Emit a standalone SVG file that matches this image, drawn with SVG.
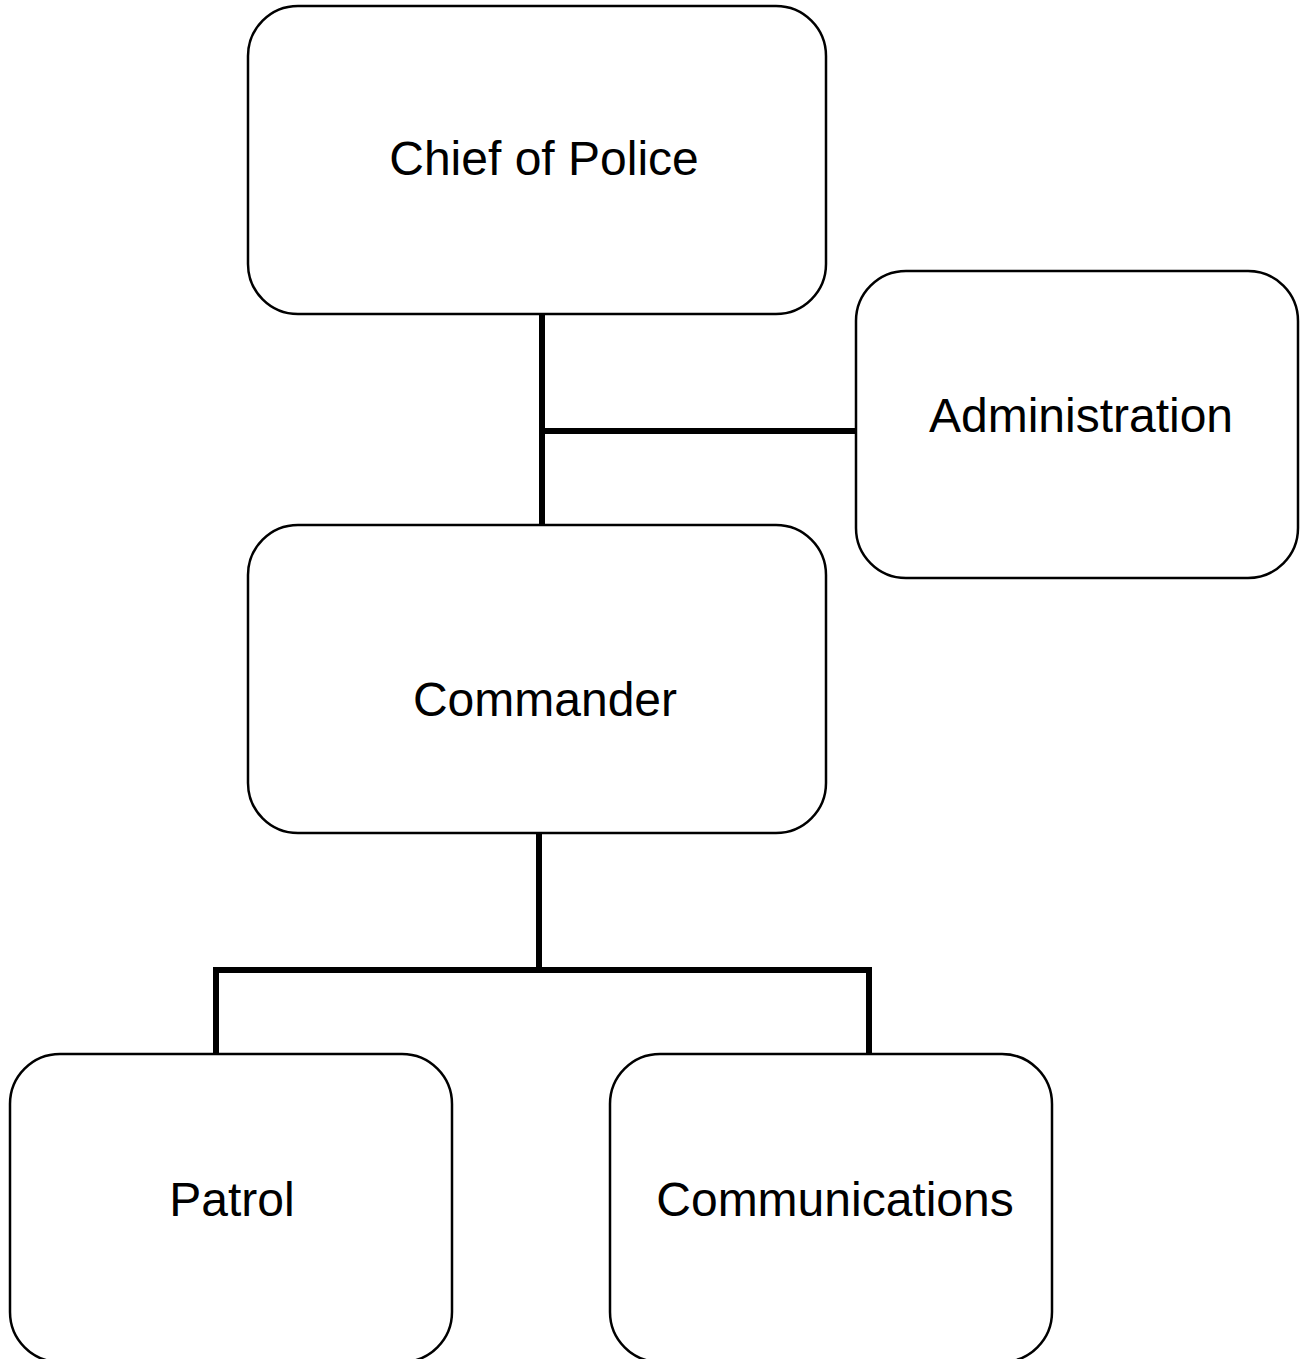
<svg xmlns="http://www.w3.org/2000/svg" width="1308" height="1359" viewBox="0 0 1308 1359">
<style>
.box{fill:#fff;stroke:#000;stroke-width:2.5}
.lbl{font-family:"Liberation Sans",Arial,sans-serif;font-size:48px;fill:#000;text-anchor:middle}
.con{fill:none;stroke:#000;stroke-width:6;stroke-linecap:butt}
</style>
<rect width="1308" height="1359" fill="#fff"/>
<g id="connectors">
<path class="con" d="M542,314 V525"/>
<path class="con" d="M542,431 H856"/>
<path class="con" d="M539,833 V970"/>
<path class="con" d="M215,970 H872"/>
<path class="con" d="M216,967 V1054"/>
<path class="con" d="M869,973 V1054"/>
</g>
<g id="chief">
<rect class="box" x="248" y="6" width="578" height="308" rx="50" ry="50"/>
<text class="lbl" x="544" y="175">Chief of Police</text>
</g>
<g id="admin">
<rect class="box" x="856" y="271" width="442" height="307" rx="50" ry="50"/>
<text class="lbl" x="1081" y="432">Administration</text>
</g>
<g id="commander">
<rect class="box" x="248" y="525" width="578" height="308" rx="50" ry="50"/>
<text class="lbl" x="545" y="716">Commander</text>
</g>
<g id="patrol">
<rect class="box" x="10" y="1054" width="442" height="308" rx="50" ry="50"/>
<text class="lbl" x="232" y="1216">Patrol</text>
</g>
<g id="communications">
<rect class="box" x="610" y="1054" width="442" height="308" rx="50" ry="50"/>
<text class="lbl" x="835" y="1216">Communications</text>
</g>
</svg>
